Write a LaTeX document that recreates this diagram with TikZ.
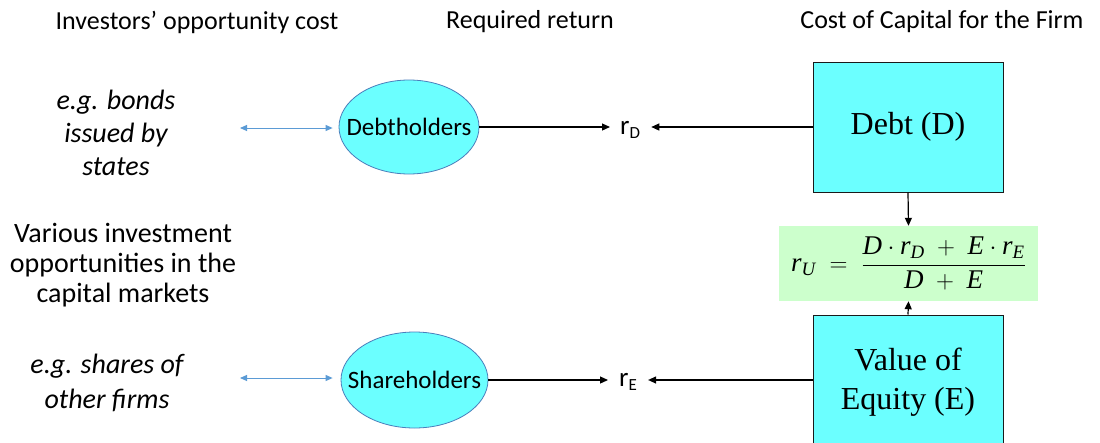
\documentclass[tikz,border=0pt]{standalone}
\usepackage{amsmath}
\usepackage{fontspec}
\setmainfont{Carlito}
\newfontfamily\timesf{Liberation Serif}
\usetikzlibrary{arrows.meta,shapes.geometric}
\definecolor{cyanfill}{HTML}{6BFFFF}
\definecolor{ellborder}{HTML}{4A7EBB}
\definecolor{greenfill}{HTML}{CCFFCC}
\definecolor{bluearrow}{HTML}{5B9BD5}
\definecolor{boxborder}{HTML}{1A1A1A}
\newcommand\mvar[1]{\text{\timesf\itshape #1}}
\tikzset{
  hdr/.style={inner sep=0pt, font=\fontsize{26}{30}\selectfont},
  lefttxt/.style={inner sep=0pt, align=center},
  ell/.style={ellipse, draw=ellborder, line width=0.8pt, fill=cyanfill, inner sep=0pt, font=\fontsize{25}{28}\selectfont},
  capbox/.style={rectangle, draw=boxborder, line width=1pt, fill=cyanfill, inner sep=0pt, align=center, minimum width=190pt, font=\timesf\fontsize{32}{39}\selectfont},
  greenbox/.style={rectangle, fill=greenfill, inner sep=0pt, minimum width=259pt, minimum height=75pt},
  retlabel/.style={inner sep=0pt, font=\fontsize{27}{30}\selectfont},
  blackarr/.style={draw=black, line width=1.2pt, -{Triangle[length=8pt,width=7pt]}},
  bluearr/.style={draw=bluearrow, line width=1pt, {Triangle[length=7pt,width=6pt]}-{Triangle[length=7pt,width=6pt]}}
}
\begin{document}
\begin{tikzpicture}[x=1pt,y=-1pt]
\useasboundingbox (0,0) rectangle (1100,442);
\clip (0,0) rectangle (1100,442);
\fill[white] (0,0) rectangle (1100,442);

% headers
\node[hdr] (h1) at (197,22) {Investors’ opportunity cost};
\node[hdr] (h2) at (530,22) {Required return};
\node[hdr] (h3) at (942,22) {Cost of Capital for the Firm};

% left texts
\node[lefttxt, font=\fontsize{28}{33}\itshape\selectfont] (bonds) at (116,133) {e.g. bonds\\issued by\\states};
\node[lefttxt, font=\fontsize{28}{30}\selectfont] (various) at (123,265) {Various investment\\opportunities in the\\capital markets};
\node[lefttxt, font=\fontsize{28}{35}\itshape\selectfont] (shares) at (107,383) {e.g. shares of\\other firms};

% ellipses
\node[ell, minimum width=140pt, minimum height=94pt] (debth) at (409,127) {\makebox[0pt]{Debtholders}};
\node[ell, minimum width=147pt, minimum height=96pt] (shareh) at (414.5,380) {\makebox[0pt]{Shareholders}};

% firm boxes
\node[capbox, minimum height=130pt] (debt) at (908,127) {Debt (D)};
\node[capbox, minimum height=134pt] (equity) at (908,382) {Value of\\Equity (E)};

% formula
\node[greenbox] (ru) at (908.5,263.5) {\fontsize{27}{30}\selectfont$\displaystyle \mvar{r}_{\mvar{U}} \;=\; \frac{\mvar{D}\cdot \mvar{r}_{\mvar{D}} \;+\; \mvar{E}\cdot \mvar{r}_{\mvar{E}}}{\mvar{D} \;+\; \mvar{E}}$};

% returns
\node[retlabel, anchor=west] (rD) at (620,130) {r\raisebox{-0.35ex}{\fontsize{17}{20}\selectfont D}};
\node[retlabel, anchor=west] (rE) at (619,382) {r\raisebox{-0.35ex}{\fontsize{17}{20}\selectfont E}};

% left blue arrows
\coordinate (bl1) at (240,128);
\coordinate (bl2) at (240,378);
\draw[bluearr, shorten >=6pt] (bl1) -- (bl1 -| debth.west);
\draw[bluearr, shorten >=8pt] (bl2) -- (bl2 -| shareh.west);

% black arrows
\draw[blackarr, shorten >=10pt] (debth.east) -- (debth.east -| rD.west);
\draw[blackarr, shorten >=11pt] (debth.east -| debt.west) -- (debth.east -| rD.east);
\draw[blackarr, shorten >=11pt] (shareh.east) -- (shareh.east -| rE.west);
\draw[blackarr, shorten >=11pt] (shareh.east -| equity.west) -- (shareh.east -| rE.east);
\draw[blackarr] (debt.south) -- (ru.north);
\draw[blackarr] (equity.north) -- (ru.south);
\end{tikzpicture}
\end{document}
